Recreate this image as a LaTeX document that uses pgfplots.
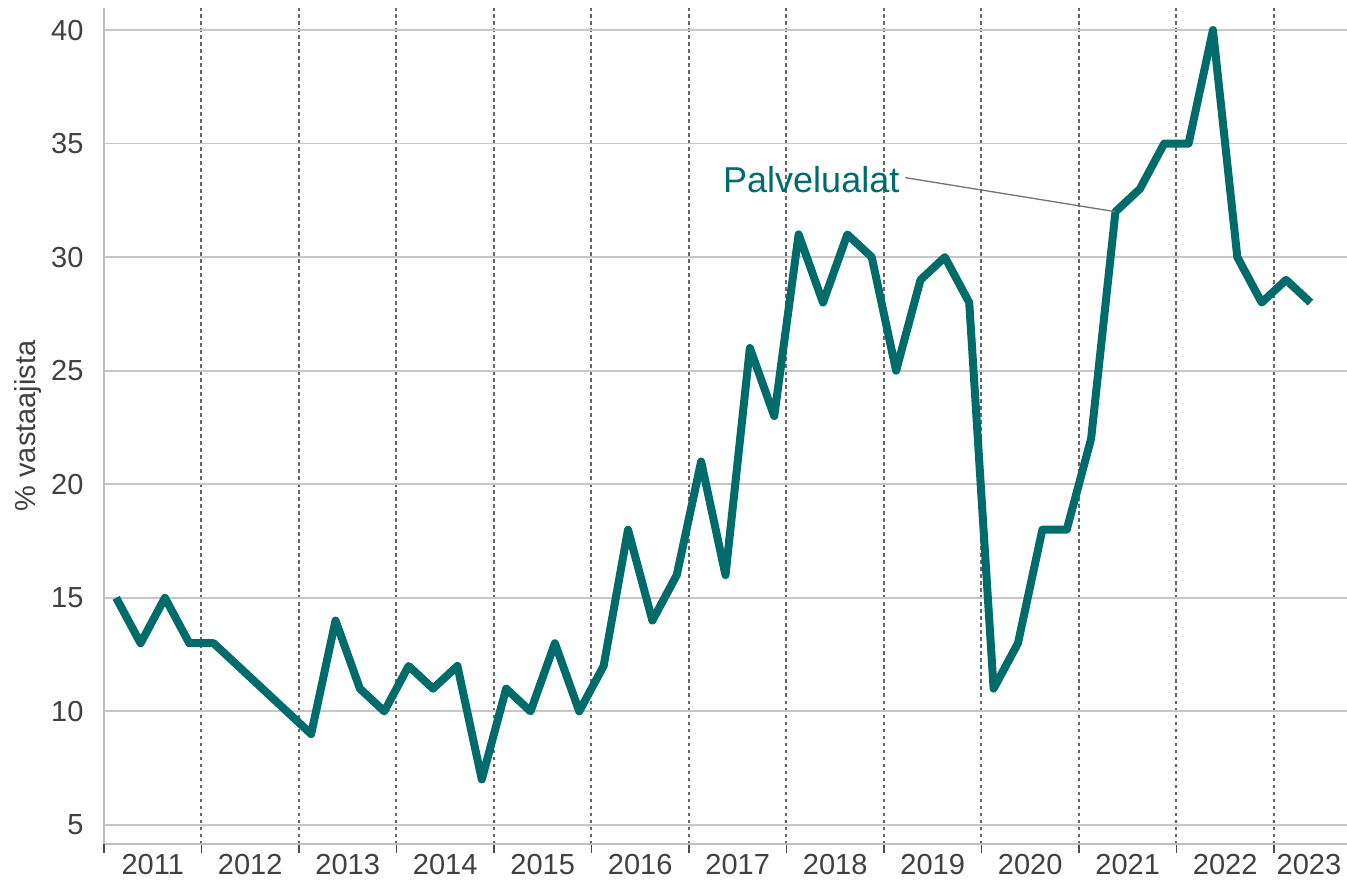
\documentclass[border=0pt]{standalone}
\usepackage{fontspec}
\setmainfont{Liberation Sans}
\usepackage{pgfplots}
\pgfplotsset{compat=1.18}
\definecolor{teal1}{RGB}{0,107,107}
\definecolor{txt}{RGB}{64,64,64}
\begin{document}
\begin{tikzpicture}[x=1pt,y=1pt]
\useasboundingbox (0,0) rectangle (1347,879);
\begin{axis}[
  at={(104pt,35pt)}, anchor=south west,
  scale only axis, width=1243pt, height=836pt,
  xmin=2011, xmax=2023.75, ymin=4.16, ymax=40.97,
  axis x line*=bottom, axis y line*=left,
  axis line style={draw=black!25, line width=1.5pt, -},
  ytick={5,10,...,40},
  ymajorgrids, major grid style={draw=black!22, line width=1.8pt},
  xtick={2011.5,2012.5,2013.5,2014.5,2015.5,2016.5,2017.5,2018.5,2019.5,2020.5,2021.5,2022.5,2023.36},
  xticklabels={2011,2012,2013,2014,2015,2016,2017,2018,2019,2020,2021,2022,2023},
  minor xtick={2012,2013,2014,2015,2016,2017,2018,2019,2020,2021,2022,2023},
  xminorgrids,
  minor x grid style={draw=black!60, line width=2pt, dash pattern=on 3.5pt off 3.5pt},
  tick align=outside, major tick length=0pt, minor tick length=9pt,
  minor tick style={draw=black!70, line width=1.5pt},
  extra x ticks={2011}, extra x tick labels={},
  extra x tick style={major tick length=9pt, xmajorgrids=false, major tick style={draw=black!70, line width=1.5pt}},
  /pgf/number format/assume math mode=true,
  xticklabel style={font=\fontsize{29}{29}\selectfont, text=txt, yshift=-7pt},
  yticklabel style={font=\fontsize{29}{29}\selectfont, text=txt, xshift=-17pt},
  ylabel={\% vastaajista},
  ylabel style={font=\fontsize{29}{29}\selectfont, text=txt, at={(axis description cs:-0.061,0.5)}, anchor=center, rotate=0},
]
\addplot[teal1, line width=8pt, line join=round] coordinates {
(2011.125,15) (2011.375,13) (2011.625,15) (2011.875,13)
(2012.125,13)
(2013.125,9) (2013.375,14) (2013.625,11) (2013.875,10)
(2014.125,12) (2014.375,11) (2014.625,12) (2014.875,7)
(2015.125,11) (2015.375,10) (2015.625,13) (2015.875,10)
(2016.125,12) (2016.375,18) (2016.625,14) (2016.875,16)
(2017.125,21) (2017.375,16) (2017.625,26) (2017.875,23)
(2018.125,31) (2018.375,28) (2018.625,31) (2018.875,30)
(2019.125,25) (2019.375,29) (2019.625,30) (2019.875,28)
(2020.125,11) (2020.375,13) (2020.625,18) (2020.875,18)
(2021.125,22) (2021.375,32) (2021.625,33) (2021.875,35)
(2022.125,35) (2022.375,40) (2022.625,30) (2022.875,28)
(2023.125,29) (2023.375,28)
};
\node[text=teal1, font=\fontsize{36}{36}\selectfont, anchor=east, inner sep=0pt] at (axis cs:2019.16,33.4) {Palvelualat};
\draw[black!55, line width=1.3pt] (axis cs:2019.22,33.5) -- (axis cs:2021.375,32);
\end{axis}
\end{tikzpicture}
\end{document}
